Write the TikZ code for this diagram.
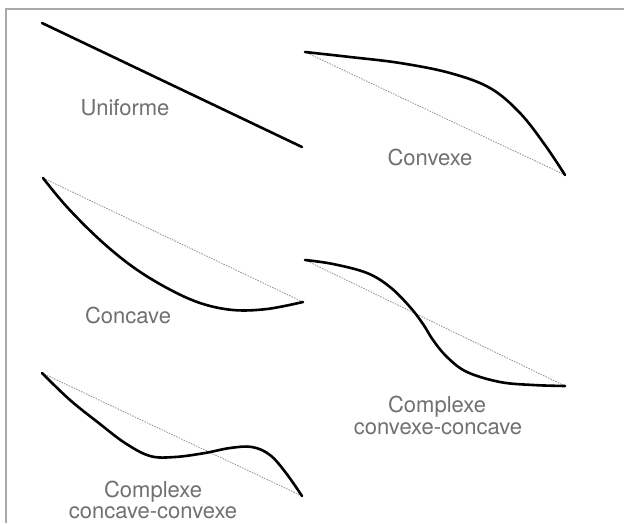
\documentclass[tikz,border=0pt]{standalone}
\usepackage{fontspec}
\setmainfont{TeX Gyre Heros}
\definecolor{labelgray}{HTML}{707070}
\definecolor{framegray}{HTML}{AAAAAA}
\definecolor{chordgray}{HTML}{959595}
\begin{document}
\begin{tikzpicture}[x=1pt,y=-1pt,
  curve/.style={line width=2.6pt,line cap=round,line join=round},
  chord/.style={line width=0.85pt,chordgray,dash pattern=on 1.5pt off 1.2pt},
  lbl/.style={anchor=base,inner sep=0pt,text=labelgray,font=\fontsize{22}{22}\selectfont},
  frame/.style={line width=2pt,framegray}]
\useasboundingbox (0,0) rectangle (624,523);
\draw[frame] (6,523) -- (6,8.5) -- (624,8.5);

% Uniforme
\coordinate (u1) at (42,23);
\coordinate (u2) at (302,147);
\draw[curve] (u1) -- (u2);
\node[lbl] (tu) at (125,115) {Uniforme};

% Convexe
\coordinate (cv1) at (305,52);
\coordinate (cv2) at (565,175);
\draw[chord] (cv1) -- (cv2);
\draw[curve] plot[smooth,tension=0.6] coordinates {(cv1) (350,57) (400,63) (450,73) (490,88) (520,113) (545,145) (cv2)};
\node[lbl] (tcv) at (430,165) {Convexe};

% Concave
\coordinate (cc1) at (43,178);
\coordinate (cc2) at (303,302);
\draw[chord] (cc1) -- (cc2);
\draw[curve] plot[smooth,tension=0.6] coordinates {(cc1) (67,207) (100,240) (133,267) (167,288) (200,303) (233,310) (267,309) (cc2)};
\node[lbl] (tcc) at (128,323) {Concave};

% Complexe convexe-concave
\coordinate (xa1) at (305,260);
\coordinate (xa2) at (565,386);
\draw[chord] (xa1) -- (xa2);
\draw[curve] plot[smooth,tension=0.6] coordinates {(xa1) (333,264) (367,273) (390,287) (410,307) (423,324) (433,340) (447,357) (467,372) (500,382) (533,385) (xa2)};
\node[lbl] (txa1) at (437,412) {Complexe};
\node[lbl] (txa2) at (438,434) {convexe-concave};

% Complexe concave-convexe
\coordinate (xb1) at (42,373);
\coordinate (xb2) at (302,496);
\draw[chord] (xb1) -- (xb2);
\draw[curve] plot[smooth,tension=0.6] coordinates {(xb1) (70,400) (100,424) (125,443) (150,456) (175,457) (205,453) (230,448) (252,447) (270,455) (286,473) (xb2)};
\node[lbl] (txb1) at (153,497) {Complexe};
\node[lbl] (txb2) at (153,518) {concave-convexe};
\end{tikzpicture}
\end{document}
